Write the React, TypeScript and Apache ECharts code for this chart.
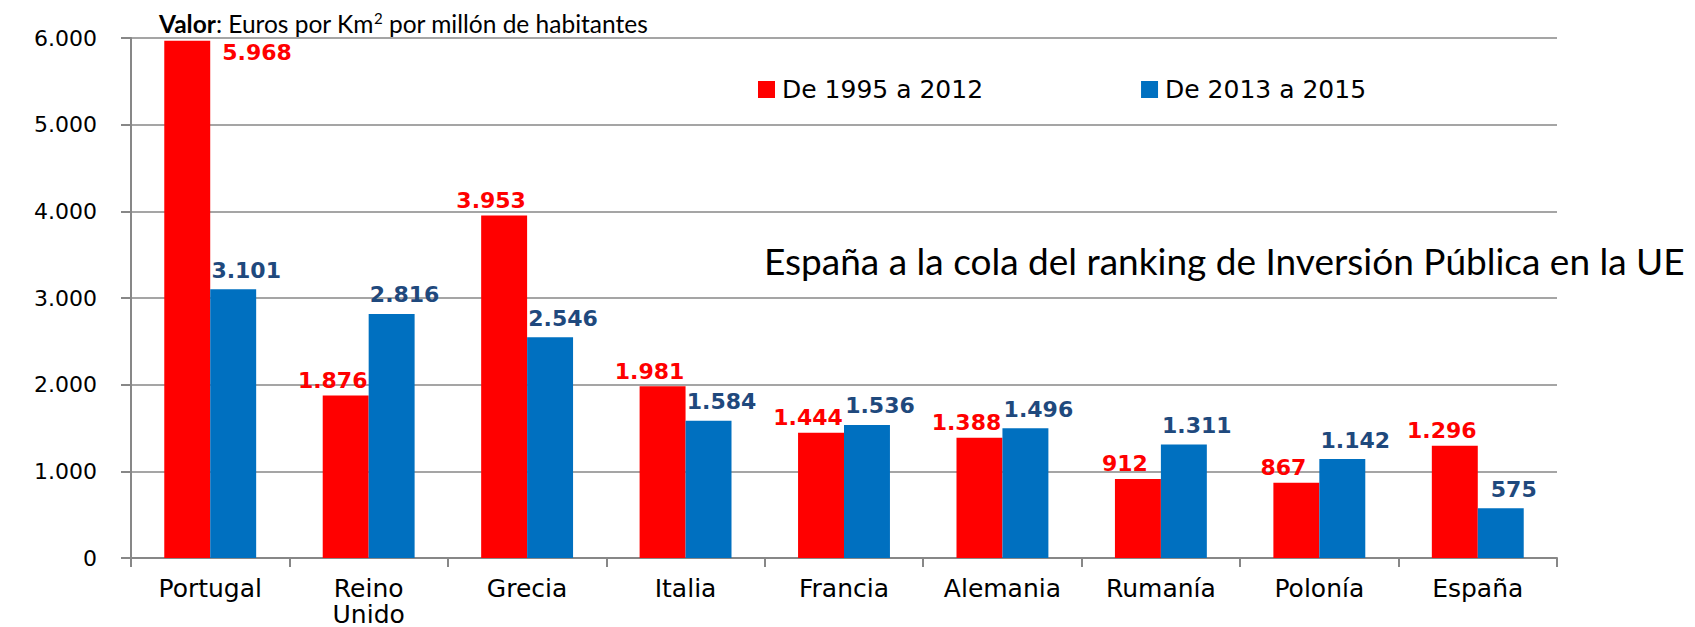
import React, { useEffect, useRef } from "react";
import * as echarts from "echarts";

const categories = ["Portugal", "Reino\nUnido", "Grecia", "Italia", "Francia", "Alemania", "Rumanía", "Polonía", "España"];
const series1995 = [5968, 1876, 3953, 1981, 1444, 1388, 912, 867, 1296];
const series2013 = [3101, 2816, 2546, 1584, 1536, 1496, 1311, 1142, 575];
const seriesNames = ["De 1995 a 2012", "De 2013 a 2015"];
const yTicks = { min: 0, max: 6000, interval: 1000 };
const subtitleText = "Euros por Km";
const mainTitle = "España a la cola del ranking de Inversión Pública en la UE";

const fmt = (v: number) => String(v).replace(/\B(?=(\d{3})+(?!\d))/g, ".");

export default function App() {
  const ref = useRef<HTMLDivElement>(null);
  useEffect(() => {
    document.body.style.margin = "0";
    const chart = echarts.init(ref.current!, null, { renderer: "svg" });
    const gray = "#878787";
    const labelFont = "DejaVu Sans";
    chart.setOption({
      animation: false,
      backgroundColor: "#ffffff",
      title: [
        {
          text: "{b|Valor}{n|: " + subtitleText + "}{s|2}{n| por millón de habitantes}",
          left: 154,
          top: 5,
          textStyle: {
            fontWeight: "normal",
            rich: {
              b: { fontFamily: "Lato", fontWeight: "bold", fontSize: 24.5, color: "#000" },
              n: { fontFamily: "Lato", fontWeight: "normal", fontSize: 24.5, color: "#000" },
              s: { fontFamily: "Lato", fontWeight: "normal", fontSize: 15, color: "#000", verticalAlign: "top", padding: [0, 0, 12, 0] },
            },
          },
        },
        {
          text: mainTitle,
          left: 759,
          top: 237,
          textStyle: { fontFamily: "Lato", fontWeight: "normal", fontSize: 37, color: "#000" },
        },
      ],
      legend: {
        left: 753,
        top: 72,
        icon: "rect",
        itemWidth: 17,
        itemHeight: 17,
        itemGap: 158,
        textStyle: { fontFamily: labelFont, fontSize: 25, color: "#000", padding: [0, 0, 0, 2] },
        data: seriesNames,
      },
      grid: { left: 131, right: 138, top: 38, bottom: 62, containLabel: false },
      xAxis: {
        type: "category",
        data: categories,
        axisLine: { lineStyle: { color: gray, width: 2 } },
        axisTick: { show: true, length: 9, lineStyle: { color: gray, width: 2 } },
        axisLabel: {
          fontFamily: labelFont,
          fontSize: 25,
          color: "#000",
          margin: 17,
          lineHeight: 26,
          interval: 0,
        },
      },
      yAxis: {
        type: "value",
        min: yTicks.min,
        max: yTicks.max,
        interval: yTicks.interval,
        axisLine: { show: true, lineStyle: { color: gray, width: 2 } },
        axisTick: { show: true, length: 10, lineStyle: { color: gray, width: 2 } },
        splitLine: { lineStyle: { color: gray, width: 1.5 } },
        axisLabel: {
          fontFamily: labelFont,
          fontSize: 22,
          color: "#000",
          margin: 34,
          formatter: (v: number) => fmt(v),
        },
      },
      series: [
        {
          name: seriesNames[0],
          type: "bar",
          barGap: "0%",
          barCategoryGap: "42%",
          itemStyle: { color: "#FF0000" },
          label: {
            show: true,
            position: "top",
            distance: 4,
            offset: [-13, 0],
            fontFamily: labelFont,
            fontWeight: "bold",
            fontSize: 22,
            color: "#FF0000",
            formatter: (p: any) => fmt(p.value),
          },
          data: series1995.map((v, i) =>
            i === 0
              ? { value: v, label: { position: [58, 1], offset: [0, 0], align: "left", verticalAlign: "top" } }
              : v
          ),
        },
        {
          name: seriesNames[1],
          type: "bar",
          itemStyle: { color: "#0070C0" },
          label: {
            show: true,
            position: "top",
            distance: 8,
            offset: [13, 0],
            fontFamily: labelFont,
            fontWeight: "bold",
            fontSize: 22,
            color: "#1F497D",
            formatter: (p: any) => fmt(p.value),
          },
          data: series2013,
        },
      ],
    });
    return () => chart.dispose();
  }, []);
  return <div ref={ref} style={{ width: 1695, height: 627 }} />;
}
